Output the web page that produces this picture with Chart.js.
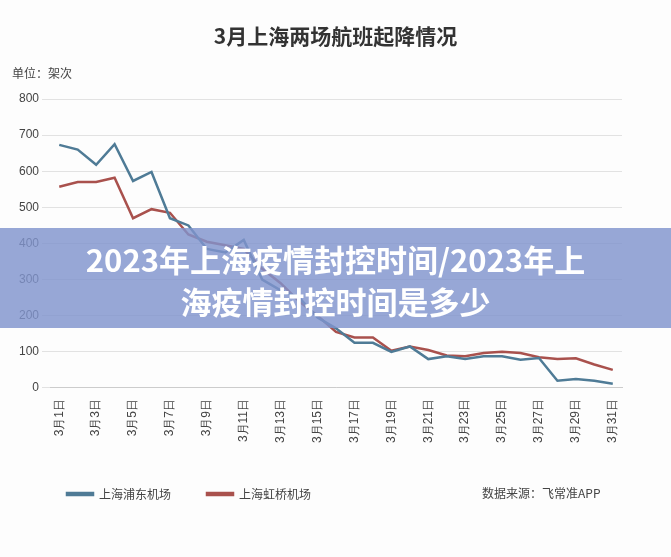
<!DOCTYPE html>
<html><head><meta charset="utf-8">
<script src="https://cdn.jsdelivr.net/npm/chart.js@4"></script>
<style>
body{margin:0;background:#fff;font-family:"Noto Sans CJK SC",sans-serif;}
#wrap{position:relative;width:671px;height:557px;background:#fdfdfd;}
#title{position:absolute;top:20px;left:0;width:671px;text-align:center;font-size:21px;font-weight:bold;color:#333;}
#unit{position:absolute;top:64px;left:12px;font-size:12px;color:#444;}
#src{position:absolute;top:484px;left:482px;font-size:12px;color:#444;}
#banner{position:absolute;top:228px;left:0;width:671px;height:100px;background:rgba(128,148,205,0.82);color:#fff;font-weight:bold;font-size:31px;text-align:center;line-height:42px;padding-top:10px;box-sizing:border-box;}
canvas{position:absolute;left:0;top:0;}
</style></head><body>
<div id="wrap">
<canvas id="c" width="671" height="557"></canvas>
<div id="title">3月上海两场航班起降情况</div>
<div id="unit">单位：架次</div>
<div id="src">数据来源：飞常准APP</div>
<div id="banner">2023年上海疫情封控时间/2023年上<br>海疫情封控时间是多少</div>
</div>
<script>
const days = [];
for (let d = 1; d <= 31; d++) days.push("3月" + d + "日");
const pudong = [673,660,618,675,573,598,470,450,385,375,410,300,270,250,195,165,125,125,100,115,80,88,80,88,88,78,83,20,25,20,12];
const hongqiao = [557,570,570,582,470,495,485,425,405,395,385,330,290,240,200,155,140,140,103,115,105,90,88,97,100,97,85,80,82,65,50];

// push the legend right a bit
const legendShift = {
    id: "legendShift",
    afterLayout(chart) { chart.legend.left += 15; }
};

new Chart(document.getElementById("c"), {
    type: "line",
    data: {
        labels: days,
        datasets: [
            {label: "上海浦东机场", data: pudong, borderColor: "#4f7b96", backgroundColor: "#4f7b96", borderWidth: 2.5, pointRadius: 0, tension: 0},
            {label: "上海虹桥机场", data: hongqiao, borderColor: "#a9514d", backgroundColor: "#a9514d", borderWidth: 2.5, pointRadius: 0, tension: 0}
        ]
    },
    plugins: [legendShift],
    options: {
        responsive: false,
        animation: false,
        layout: {padding: {top: 99, left: 16, right: 49, bottom: 47}},
        plugins: {
            legend: {
                position: "bottom", align: "start",
                labels: {boxWidth: 26, boxHeight: 2, color: "#444", font: {size: 12, family: "Noto Sans CJK SC"}, padding: 36}
            },
            tooltip: {enabled: false}
        },
        scales: {
            x: {
                offset: true,
                afterFit(scale) { scale.height += 6; },
                grid: {display: false, drawTicks: true},
                border: {color: "#ccc"},
                ticks: {autoSkip: false, maxRotation: 90, minRotation: 90, color: "#444", font: {size: 12},
                    callback: function(v, i) { return i % 2 === 0 ? days[i] : ""; }}
            },
            y: {
                min: 0, max: 800,
                ticks: {stepSize: 100, color: "#444", font: {size: 12}},
                grid: {color: "#e2e2e2"},
                border: {display: false}
            }
        }
    }
});
</script>
</body></html>
